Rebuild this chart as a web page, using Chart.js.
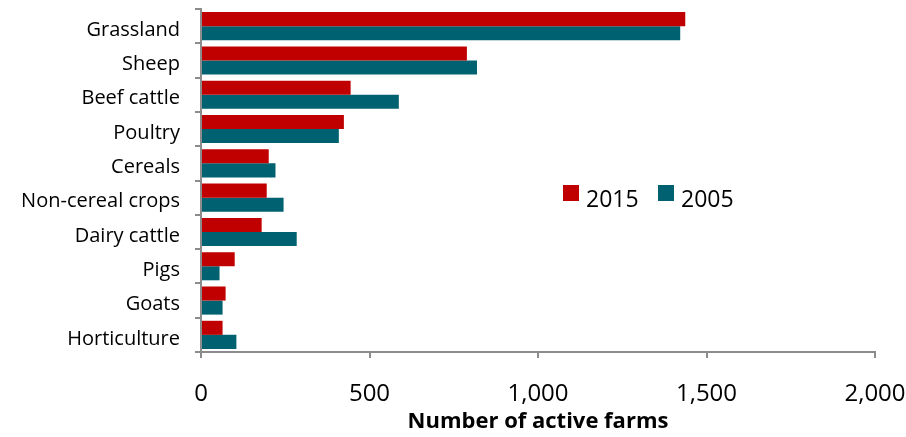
<!DOCTYPE html>
<html>
<head>
<meta charset="utf-8">
<script src="https://cdn.jsdelivr.net/npm/chart.js@4"></script>
<style>
  html, body { margin: 0; padding: 0; background: #fff; }
  #wrap { width: 906px; height: 437px; }
</style>
</head>
<body>
<div id="wrap"><canvas id="g-farms"></canvas></div>
<script>
var categories = ['Grassland', 'Sheep', 'Beef cattle', 'Poultry', 'Cereals', 'Non-cereal crops', 'Dairy cattle', 'Pigs', 'Goats', 'Horticulture'];
var farms2015 = [1437, 789, 444, 424, 201, 195, 180, 100, 73, 64];
var farms2005 = [1422, 819, 587, 409, 221, 245, 284, 55, 64, 105];
var xTicks = [0, 500, 1000, 1500, 2000];

var axisGrey = '#8c8c8c';

// legend drawn inside the plot, like the original
var innerLegend = {
    id: 'innerLegend',
    afterDraw: function (chart) {
        var ctx = chart.ctx;
        var x = 563;
        ctx.save();
        ctx.font = '23px "Open Sans"';
        ctx.textBaseline = 'alphabetic';
        chart.data.datasets.forEach(function (ds) {
            ctx.fillStyle = ds.backgroundColor;
            ctx.fillRect(x, 185, 16, 16);
            ctx.fillStyle = '#000';
            ctx.fillText(ds.label, x + 23, 207);
            x += 95;
        });
        ctx.restore();
    }
};

var gFarms = new Chart(document.getElementById('g-farms'), {
    type: 'bar',
    data: {
        labels: categories,
        datasets: [
            { label: '2015', data: farms2015, backgroundColor: '#c00000' },
            { label: '2005', data: farms2005, backgroundColor: '#006170' }
        ]
    },
    options: {
        indexAxis: 'y',
        responsive: true,
        maintainAspectRatio: false,
        animation: false,
        datasets: {
            bar: { barPercentage: 1, categoryPercentage: 0.82 }
        },
        layout: { padding: { top: 9, right: 0, left: 0, bottom: 0 } },
        plugins: {
            legend: { display: false },
            tooltip: { enabled: false }
        },
        scales: {
            x: {
                min: 0,
                max: 2000,
                afterBuildTicks: function (scale) {
                    scale.ticks = xTicks.map(function (v) { return { value: v }; });
                },
                grid: { drawOnChartArea: false, drawTicks: true, tickLength: 6, color: axisGrey, lineWidth: 2 },
                border: { color: axisGrey, width: 2 },
                ticks: {
                    color: '#000',
                    font: { family: 'Open Sans', size: 24 },
                    padding: 22,
                    maxRotation: 0,
                    callback: function (v) { return v.toLocaleString('en-US'); }
                },
                title: {
                    display: true,
                    text: 'Number of active farms',
                    color: '#000',
                    font: { family: 'Open Sans', size: 22, weight: 'bold' },
                    padding: { top: 0, bottom: 2 }
                },
                afterFit: function (scale) {
                    scale.height = 85;
                    scale.paddingLeft = 0;
                    scale.paddingRight = 31;
                }
            },
            y: {
                grid: { drawOnChartArea: false, drawTicks: true, tickLength: 6, color: axisGrey, lineWidth: 2, offset: true },
                border: { color: axisGrey, width: 2 },
                ticks: {
                    color: '#000',
                    font: { family: 'Open Sans', size: 20 },
                    padding: 15,
                    labelOffset: 4
                },
                afterFit: function (scale) {
                    scale.width = 201;
                    scale.paddingTop = 0;
                    scale.paddingBottom = 0;
                }
            }
        }
    },
    plugins: [innerLegend]
});
</script>
</body>
</html>
